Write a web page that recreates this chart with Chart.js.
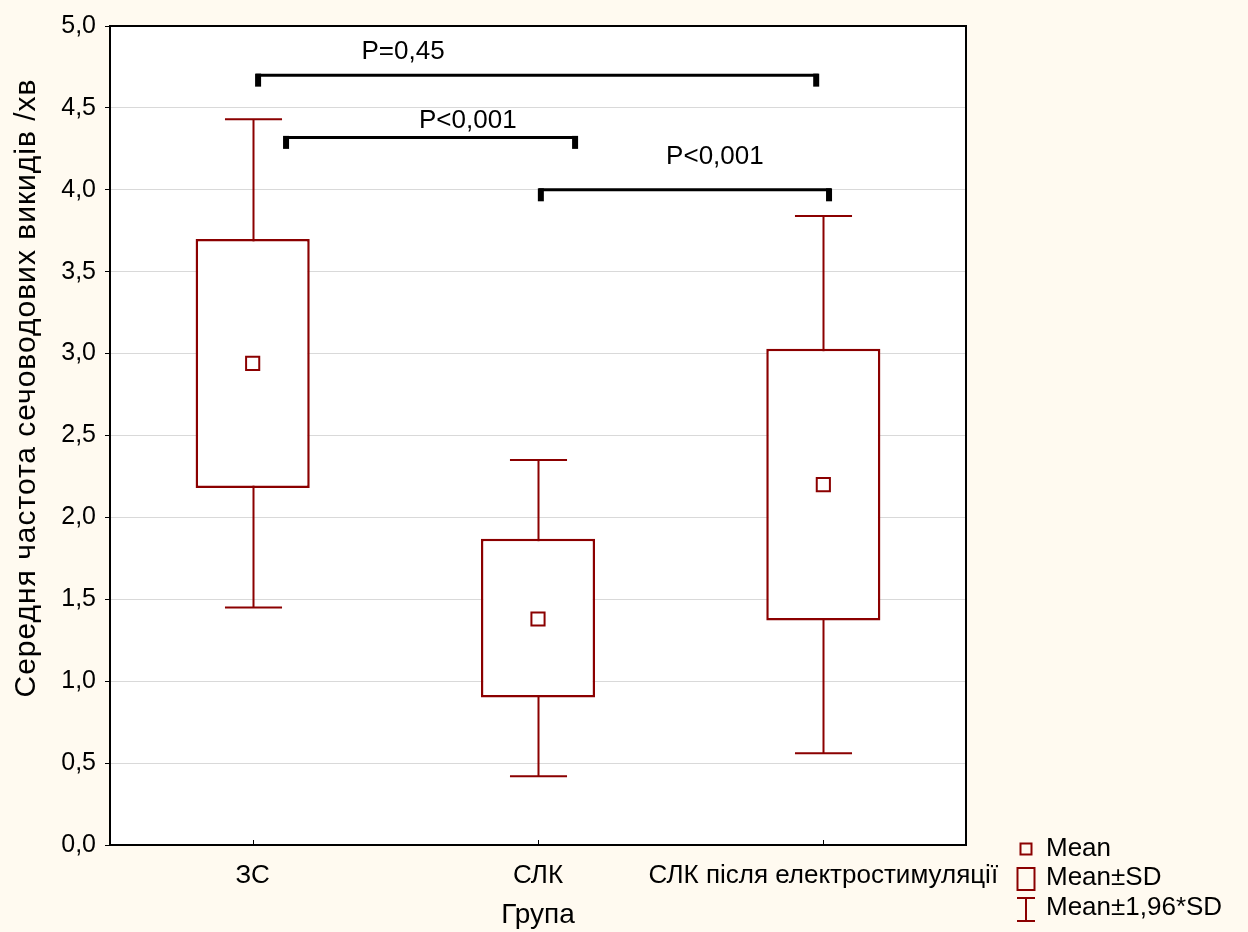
<!DOCTYPE html>
<html>
<head>
<meta charset="utf-8">
<script src="https://cdn.jsdelivr.net/npm/chart.js@4.4.1/dist/chart.umd.min.js"></script>
<style>
  html, body { margin: 0; padding: 0; background: #fffaf0; }
  #c { display: block; }
</style>
</head>
<body>
<canvas id="c" width="1248" height="932"></canvas>
<script>
// groups and summary values
const groups = ['ЗС', 'СЛК', 'СЛК після електростимуляції'];
const means = [2.94, 1.38, 2.20];
const sdLow = [2.18, 0.90, 1.37];
const sdHigh = [3.70, 1.87, 3.03];
const ciLow = [1.45, 0.42, 0.56];
const ciHigh = [4.43, 2.35, 3.84];

const yTicks = [0, 0.5, 1, 1.5, 2, 2.5, 3, 3.5, 4, 4.5, 5];
const yTitle = 'Середня частота сечоводових викидів /хв';

// significance brackets (x in category units, y in axis units)
const bracketFrom = [0.012, 0.11, 1.003];
const bracketTo = [1.982, 1.137, 2.027];
const bracketLevel = [4.70, 4.32, 4.00];
const bracketText = ['P=0,45', 'P<0,001', 'P<0,001'];
const bracketTextX = [0.527, 0.754, 1.62];
const bracketTextY = [4.84, 4.42, 4.20];

const RED = '#8b0000';
const FONT = "'Liberation Sans', Arial, sans-serif";
Chart.defaults.font.family = FONT;
Chart.defaults.color = '#000';

const fmt = v => Number(v).toFixed(1).replace('.', ',');

const boxPlugin = {
    id: 'boxExtras',
    beforeDraw(chart) {
        const { ctx, chartArea: a } = chart;
        ctx.save();
        ctx.fillStyle = '#ffffff';
        ctx.fillRect(a.left, a.top, a.right - a.left, a.bottom - a.top);
        ctx.restore();
    },
    beforeDatasetsDraw(chart) {
        // whiskers: mean ± 1,96*SD
        const { ctx, scales: { x, y } } = chart;
        ctx.save();
        ctx.strokeStyle = RED;
        ctx.lineWidth = 2;
        groups.forEach((g, i) => {
            const cx = Math.round(x.getPixelForValue(i)) + 0.5;
            const half = x.getPixelForValue(i + 0.1) - x.getPixelForValue(i);
            const top = y.getPixelForValue(ciHigh[i]);
            const bot = y.getPixelForValue(ciLow[i]);
            ctx.beginPath();
            ctx.moveTo(cx, top); ctx.lineTo(cx, bot);
            ctx.moveTo(cx - half, top); ctx.lineTo(cx + half, top);
            ctx.moveTo(cx - half, bot); ctx.lineTo(cx + half, bot);
            ctx.stroke();
        });
        ctx.restore();
    },
    afterDatasetsDraw(chart) {
        const { ctx, chartArea: a, scales: { x, y } } = chart;
        ctx.save();
        // frame
        ctx.strokeStyle = '#000';
        ctx.lineWidth = 2;
        ctx.strokeRect(a.left, a.top, a.right - a.left, a.bottom - a.top);
        // inward ticks on the x axis
        ctx.lineWidth = 1;
        groups.forEach((g, i) => {
            const px = Math.round(x.getPixelForValue(i)) + 0.5;
            ctx.beginPath();
            ctx.moveTo(px, a.bottom); ctx.lineTo(px, a.bottom - 5);
            ctx.stroke();
        });
        // brackets
        ctx.lineWidth = 3;
        bracketLevel.forEach((lv, i) => {
            const x1 = x.getPixelForValue(bracketFrom[i]);
            const x2 = x.getPixelForValue(bracketTo[i]);
            const py = y.getPixelForValue(lv);
            ctx.beginPath();
            ctx.moveTo(x1, py); ctx.lineTo(x2, py);
            ctx.stroke();
            ctx.fillStyle = '#000';
            ctx.fillRect(x1 - 1, py - 1.5, 6, 13);
            ctx.fillRect(x2 - 5, py - 1.5, 6, 13);
            ctx.font = '26px ' + FONT;
            ctx.textAlign = 'center';
            ctx.textBaseline = 'middle';
            ctx.fillText(bracketText[i], x.getPixelForValue(bracketTextX[i]), y.getPixelForValue(bracketTextY[i]));
        });
        ctx.restore();
    },
    afterDraw(chart) {
        const { ctx } = chart;
        ctx.save();
        // y axis title
        ctx.fillStyle = '#000';
        ctx.font = '30px ' + FONT;
        ctx.letterSpacing = '1px';
        ctx.textAlign = 'center';
        ctx.textBaseline = 'middle';
        ctx.translate(27, 388);
        ctx.rotate(-Math.PI / 2);
        ctx.fillText(yTitle, 0, 0);
        ctx.restore();

        // legend at the lower right
        ctx.save();
        ctx.strokeStyle = RED;
        ctx.lineWidth = 2;
        ctx.strokeRect(1020.5, 843.5, 11, 11);
        ctx.strokeRect(1017.5, 868, 17, 22);
        ctx.beginPath();
        ctx.moveTo(1026, 898); ctx.lineTo(1026, 921);
        ctx.moveTo(1017, 898); ctx.lineTo(1035, 898);
        ctx.moveTo(1017, 921); ctx.lineTo(1035, 921);
        ctx.stroke();
        ctx.fillStyle = '#000';
        ctx.font = '26px ' + FONT;
        ctx.textAlign = 'left';
        ctx.textBaseline = 'middle';
        ctx.fillText('Mean', 1046, 849);
        ctx.fillText('Mean±SD', 1046, 878);
        ctx.fillText('Mean±1,96*SD', 1046, 908);
        ctx.restore();
    }
};

new Chart(document.getElementById('c'), {
    data: {
        labels: groups,
        datasets: [
            {
                type: 'bar',
                label: 'Mean±SD',
                data: groups.map((g, i) => [sdLow[i], sdHigh[i]]),
                backgroundColor: '#ffffff',
                borderColor: RED,
                borderWidth: 2.5,
                borderSkipped: false,
                barPercentage: 0.4,
                categoryPercentage: 1,
                order: 2
            },
            {
                type: 'line',
                label: 'Mean',
                data: means,
                showLine: false,
                pointStyle: 'rect',
                pointRadius: 9.3,
                pointBackgroundColor: '#ffffff',
                pointBorderColor: RED,
                pointBorderWidth: 2,
                order: 1
            }
        ]
    },
    options: {
        responsive: false,
        animation: false,
        layout: { padding: { left: 0, right: 282, top: 26, bottom: 0 } },
        plugins: {
            legend: { display: false },
            tooltip: { enabled: false }
        },
        scales: {
            x: {
                type: 'category',
                offset: true,
                grid: { display: false, drawTicks: false },
                border: { display: false },
                ticks: { font: { size: 26 }, padding: 15, maxRotation: 0, autoSkip: false },
                title: { display: true, text: 'Група', font: { size: 28 }, padding: { top: 0, bottom: 0 } },
                afterFit(s) { s.height = 87; }
            },
            y: {
                min: 0,
                max: 5,
                afterBuildTicks(s) { s.ticks = yTicks.map(v => ({ value: v })); },
                grid: { color: '#d9d9d9', tickColor: '#000', tickLength: 5 },
                border: { display: false },
                ticks: { font: { size: 25 }, padding: 9, callback: v => fmt(v) },
                title: { display: false },
                afterFit(s) { s.width = 110; }
            }
        }
    },
    plugins: [boxPlugin]
});
</script>
</body>
</html>
